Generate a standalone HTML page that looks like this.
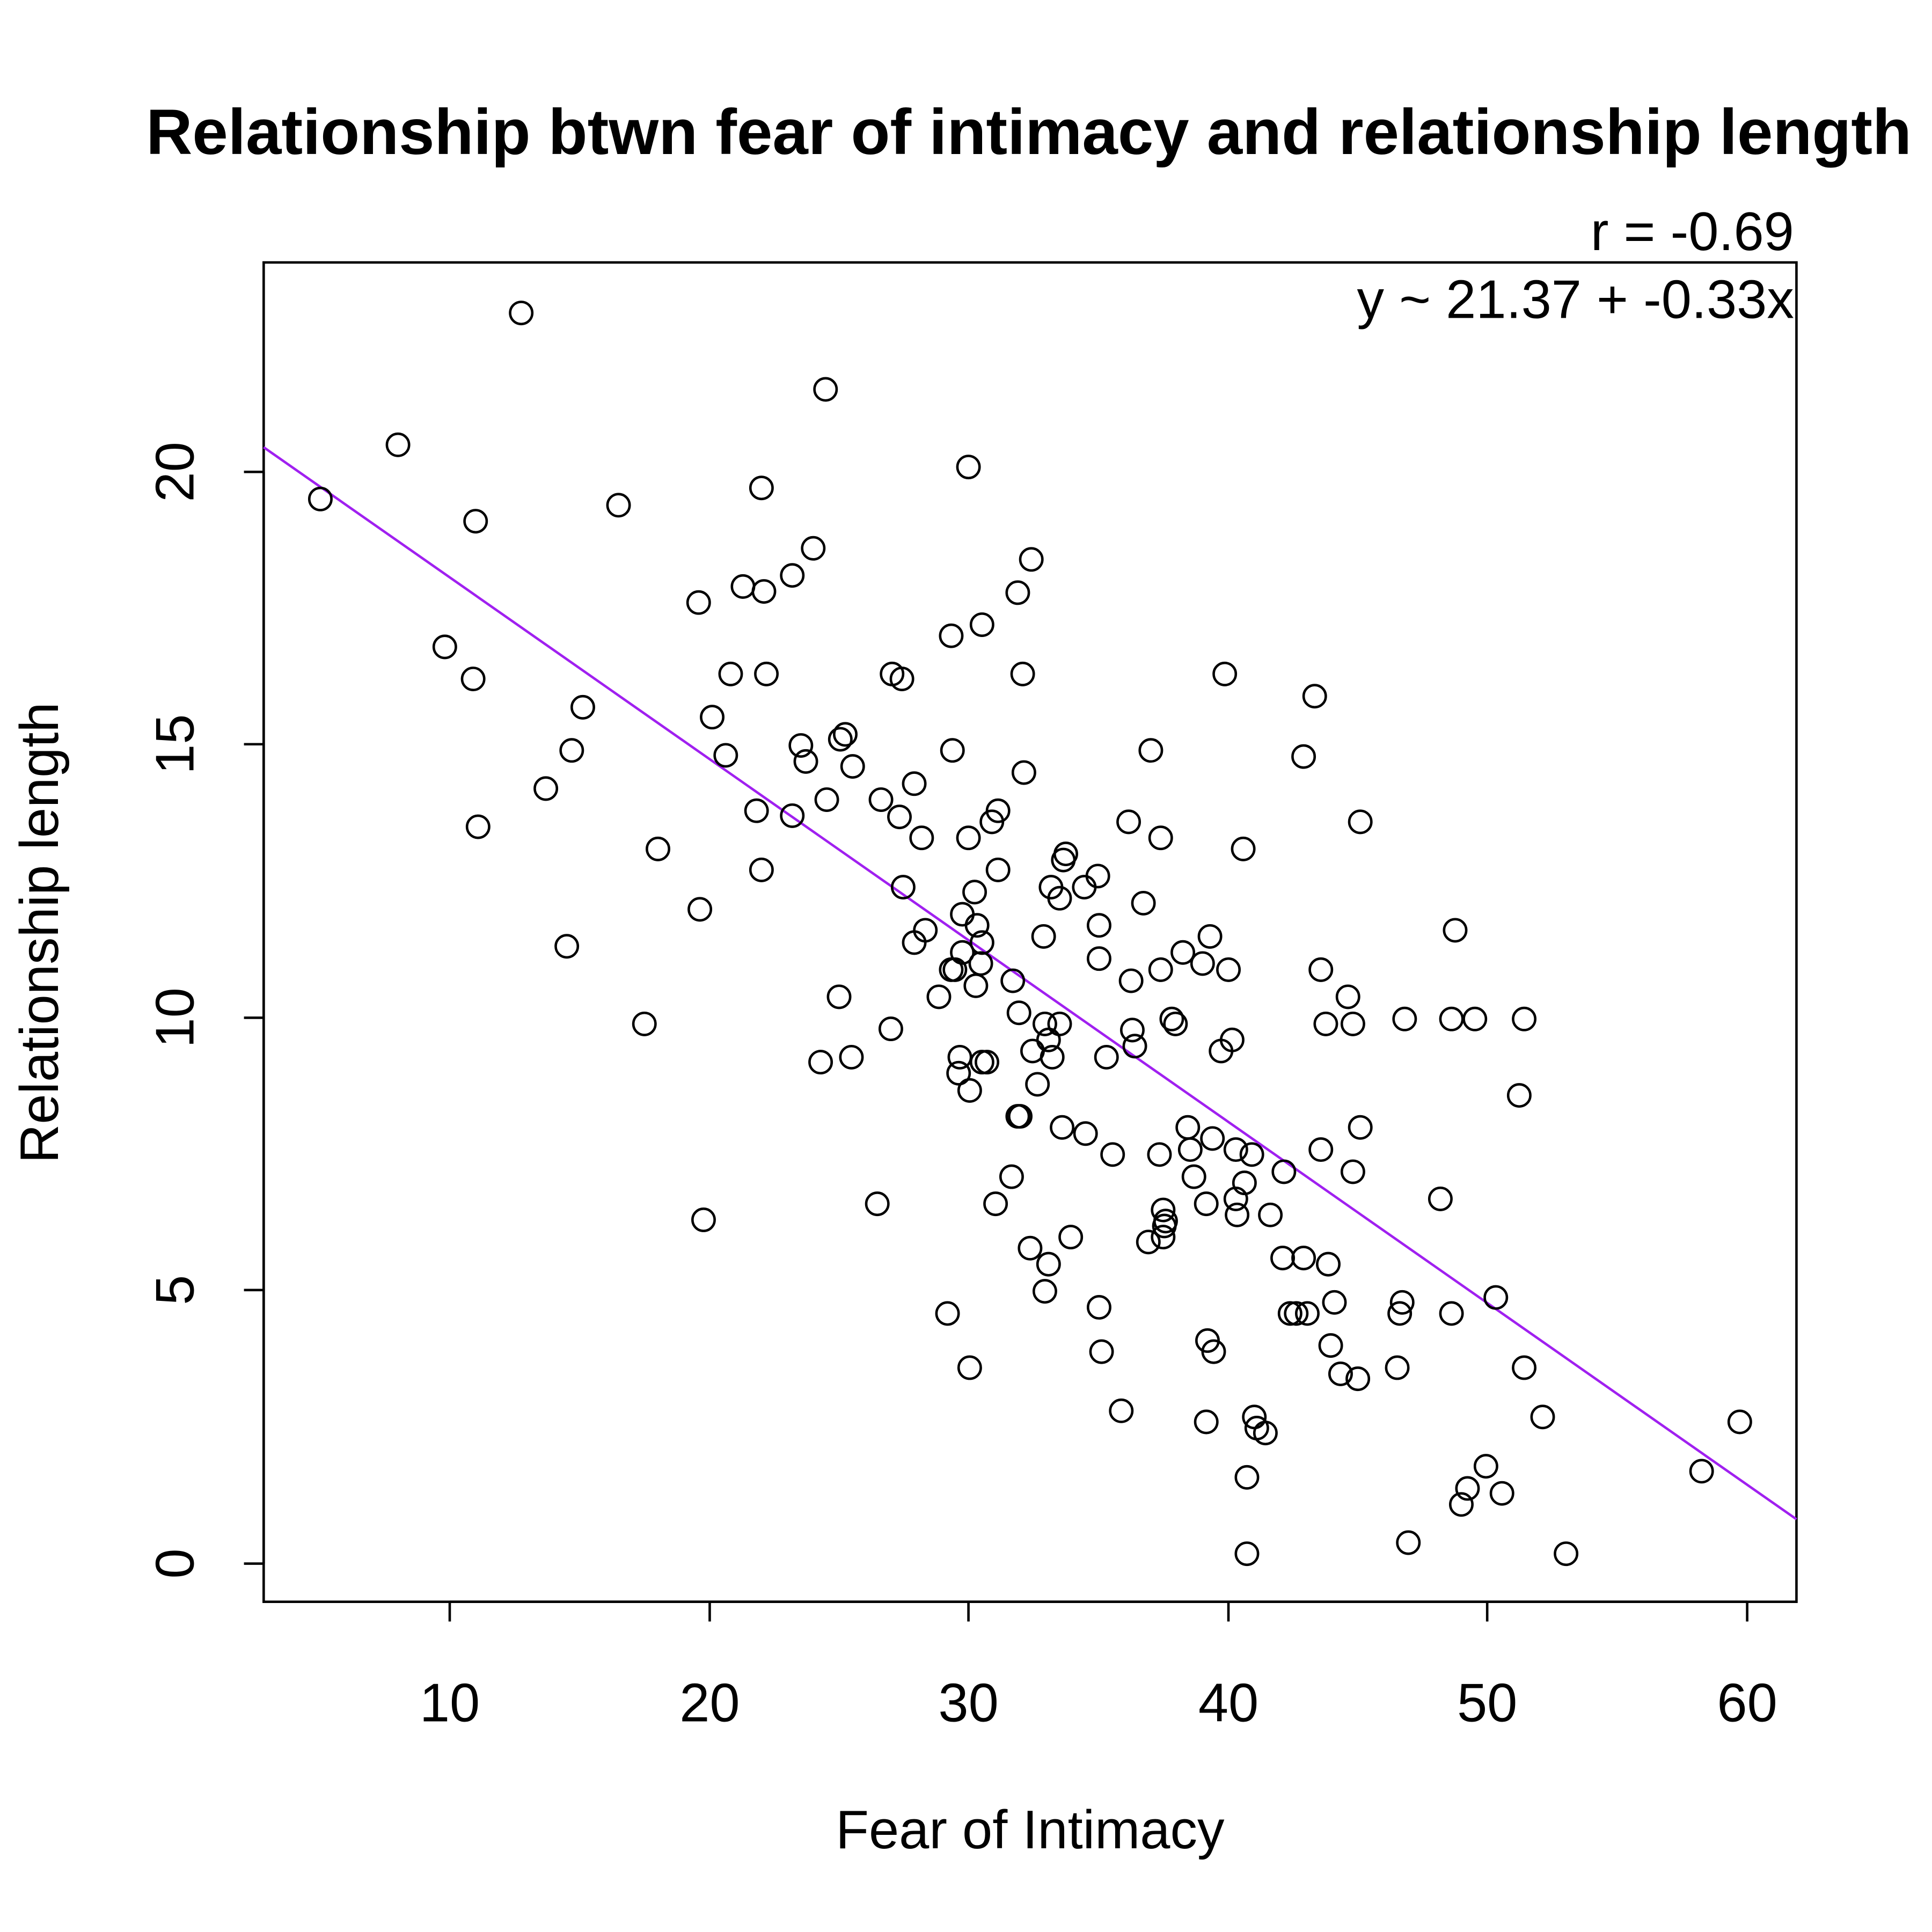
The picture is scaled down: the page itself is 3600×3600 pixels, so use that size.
<!DOCTYPE html>
<html><head><meta charset="utf-8"><style>html,body{margin:0;padding:0;background:#fff}svg{display:block}</style></head>
<body>
<svg xmlns="http://www.w3.org/2000/svg" width="3600" height="3600" viewBox="0 0 1568 1568" font-family="Liberation Sans, Arial, sans-serif">
<rect width="1568" height="1568" fill="#fff"/>
<text x="835" y="125" text-anchor="middle" font-size="52" font-weight="bold">Relationship btwn fear of intimacy and relationship length</text>
<text x="1456" y="203" text-anchor="end" font-size="44">r = -0.69</text>
<text x="1456" y="258" text-anchor="end" font-size="44">y ~ 21.37 + -0.33x</text>
<rect x="214" y="213" width="1244" height="1087" fill="none" stroke="#000" stroke-width="2"/>
<g stroke="#000" stroke-width="2">
<line x1="365" y1="1300" x2="1418" y2="1300"/>
<line x1="365" y1="1300" x2="365" y2="1316"/><line x1="576" y1="1300" x2="576" y2="1316"/><line x1="786" y1="1300" x2="786" y2="1316"/><line x1="997" y1="1300" x2="997" y2="1316"/><line x1="1207" y1="1300" x2="1207" y2="1316"/><line x1="1418" y1="1300" x2="1418" y2="1316"/>
<line x1="214" y1="383" x2="214" y2="1269"/>
<line x1="214" y1="1269" x2="198" y2="1269"/><line x1="214" y1="1047" x2="198" y2="1047"/><line x1="214" y1="826" x2="198" y2="826"/><line x1="214" y1="604" x2="198" y2="604"/><line x1="214" y1="383" x2="198" y2="383"/>
</g>
<g font-size="44" text-anchor="middle">
<text x="365" y="1397">10</text><text x="576" y="1397">20</text><text x="786" y="1397">30</text><text x="997" y="1397">40</text><text x="1207" y="1397">50</text><text x="1418" y="1397">60</text>
<text transform="translate(157,1269) rotate(-90)">0</text>
<text transform="translate(157,1047) rotate(-90)">5</text>
<text transform="translate(157,826) rotate(-90)">10</text>
<text transform="translate(157,604) rotate(-90)">15</text>
<text transform="translate(157,383) rotate(-90)">20</text>
<text x="836" y="1500">Fear of Intimacy</text>
<text transform="translate(47,757) rotate(-90)">Relationship length</text>
</g>
<line x1="214" y1="363" x2="1458" y2="1233" stroke="#a020f0" stroke-width="2"/>
<g fill="none" stroke="#000" stroke-width="2">
<circle cx="260" cy="405" r="9"/><circle cx="323" cy="361" r="9"/><circle cx="423" cy="254" r="9"/><circle cx="361" cy="525" r="9"/><circle cx="386" cy="423" r="9"/><circle cx="384" cy="551" r="9"/><circle cx="388" cy="671" r="9"/><circle cx="443" cy="640" r="9"/><circle cx="464" cy="609" r="9"/><circle cx="473" cy="574" r="9"/><circle cx="460" cy="768" r="9"/><circle cx="502" cy="410" r="9"/><circle cx="523" cy="831" r="9"/><circle cx="534" cy="689" r="9"/><circle cx="567" cy="489" r="9"/><circle cx="568" cy="738" r="9"/><circle cx="571" cy="990" r="9"/><circle cx="578" cy="582" r="9"/><circle cx="589" cy="613" r="9"/><circle cx="593" cy="547" r="9"/><circle cx="603" cy="476" r="9"/><circle cx="614" cy="658" r="9"/><circle cx="618" cy="396" r="9"/><circle cx="620" cy="480" r="9"/><circle cx="622" cy="547" r="9"/><circle cx="618" cy="706" r="9"/><circle cx="643" cy="467" r="9"/><circle cx="643" cy="662" r="9"/><circle cx="650" cy="605" r="9"/><circle cx="654" cy="618" r="9"/><circle cx="660" cy="445" r="9"/><circle cx="671" cy="649" r="9"/><circle cx="666" cy="862" r="9"/><circle cx="670" cy="316" r="9"/><circle cx="681" cy="809" r="9"/><circle cx="686" cy="596" r="9"/><circle cx="682" cy="600" r="9"/><circle cx="692" cy="622" r="9"/><circle cx="691" cy="858" r="9"/><circle cx="712" cy="977" r="9"/><circle cx="715" cy="649" r="9"/><circle cx="723" cy="835" r="9"/><circle cx="724" cy="547" r="9"/><circle cx="730" cy="663" r="9"/><circle cx="732" cy="551" r="9"/><circle cx="733" cy="720" r="9"/><circle cx="742" cy="636" r="9"/><circle cx="748" cy="680" r="9"/><circle cx="742" cy="765" r="9"/><circle cx="751" cy="755" r="9"/><circle cx="762" cy="809" r="9"/><circle cx="769" cy="1066" r="9"/><circle cx="772" cy="516" r="9"/><circle cx="773" cy="609" r="9"/><circle cx="772" cy="787" r="9"/><circle cx="775" cy="787" r="9"/><circle cx="779" cy="858" r="9"/><circle cx="778" cy="871" r="9"/><circle cx="781" cy="742" r="9"/><circle cx="781" cy="773" r="9"/><circle cx="786" cy="680" r="9"/><circle cx="787" cy="885" r="9"/><circle cx="786" cy="379" r="9"/><circle cx="787" cy="1110" r="9"/><circle cx="791" cy="724" r="9"/><circle cx="793" cy="751" r="9"/><circle cx="792" cy="800" r="9"/><circle cx="797" cy="507" r="9"/><circle cx="797" cy="765" r="9"/><circle cx="796" cy="782" r="9"/><circle cx="797" cy="862" r="9"/><circle cx="801" cy="862" r="9"/><circle cx="805" cy="667" r="9"/><circle cx="808" cy="977" r="9"/><circle cx="810" cy="658" r="9"/><circle cx="810" cy="706" r="9"/><circle cx="822" cy="796" r="9"/><circle cx="821" cy="955" r="9"/><circle cx="826" cy="481" r="9"/><circle cx="827" cy="822" r="9"/><circle cx="826" cy="906" r="9"/><circle cx="828" cy="906" r="9"/><circle cx="831" cy="627" r="9"/><circle cx="830" cy="547" r="9"/><circle cx="837" cy="454" r="9"/><circle cx="836" cy="1013" r="9"/><circle cx="838" cy="853" r="9"/><circle cx="842" cy="880" r="9"/><circle cx="847" cy="760" r="9"/><circle cx="848" cy="1048" r="9"/><circle cx="848" cy="831" r="9"/><circle cx="851" cy="1026" r="9"/><circle cx="851" cy="844" r="9"/><circle cx="854" cy="858" r="9"/><circle cx="853" cy="720" r="9"/><circle cx="860" cy="729" r="9"/><circle cx="862" cy="915" r="9"/><circle cx="860" cy="831" r="9"/><circle cx="863" cy="698" r="9"/><circle cx="865" cy="693" r="9"/><circle cx="869" cy="1004" r="9"/><circle cx="880" cy="720" r="9"/><circle cx="881" cy="920" r="9"/><circle cx="891" cy="711" r="9"/><circle cx="892" cy="751" r="9"/><circle cx="892" cy="778" r="9"/><circle cx="892" cy="1061" r="9"/><circle cx="894" cy="1097" r="9"/><circle cx="898" cy="858" r="9"/><circle cx="903" cy="937" r="9"/><circle cx="910" cy="1145" r="9"/><circle cx="916" cy="667" r="9"/><circle cx="918" cy="796" r="9"/><circle cx="919" cy="836" r="9"/><circle cx="921" cy="849" r="9"/><circle cx="928" cy="733" r="9"/><circle cx="934" cy="609" r="9"/><circle cx="932" cy="1008" r="9"/><circle cx="941" cy="937" r="9"/><circle cx="942" cy="680" r="9"/><circle cx="942" cy="787" r="9"/><circle cx="944" cy="982" r="9"/><circle cx="944" cy="1004" r="9"/><circle cx="946" cy="991" r="9"/><circle cx="945" cy="995" r="9"/><circle cx="951" cy="827" r="9"/><circle cx="954" cy="831" r="9"/><circle cx="960" cy="773" r="9"/><circle cx="964" cy="915" r="9"/><circle cx="966" cy="933" r="9"/><circle cx="969" cy="955" r="9"/><circle cx="976" cy="782" r="9"/><circle cx="979" cy="977" r="9"/><circle cx="980" cy="1088" r="9"/><circle cx="982" cy="760" r="9"/><circle cx="984" cy="924" r="9"/><circle cx="985" cy="1097" r="9"/><circle cx="979" cy="1154" r="9"/><circle cx="991" cy="853" r="9"/><circle cx="994" cy="547" r="9"/><circle cx="997" cy="787" r="9"/><circle cx="1000" cy="844" r="9"/><circle cx="1003" cy="933" r="9"/><circle cx="1003" cy="973" r="9"/><circle cx="1004" cy="986" r="9"/><circle cx="1010" cy="960" r="9"/><circle cx="1009" cy="689" r="9"/><circle cx="1012" cy="1199" r="9"/><circle cx="1012" cy="1261" r="9"/><circle cx="1016" cy="937" r="9"/><circle cx="1018" cy="1150" r="9"/><circle cx="1020" cy="1159" r="9"/><circle cx="1027" cy="1163" r="9"/><circle cx="1031" cy="986" r="9"/><circle cx="1042" cy="951" r="9"/><circle cx="1041" cy="1021" r="9"/><circle cx="1047" cy="1066" r="9"/><circle cx="1052" cy="1066" r="9"/><circle cx="1058" cy="614" r="9"/><circle cx="1058" cy="1021" r="9"/><circle cx="1061" cy="1066" r="9"/><circle cx="1067" cy="565" r="9"/><circle cx="1072" cy="787" r="9"/><circle cx="1072" cy="933" r="9"/><circle cx="1076" cy="831" r="9"/><circle cx="1078" cy="1026" r="9"/><circle cx="1080" cy="1092" r="9"/><circle cx="1083" cy="1057" r="9"/><circle cx="1088" cy="1115" r="9"/><circle cx="1094" cy="809" r="9"/><circle cx="1098" cy="831" r="9"/><circle cx="1098" cy="951" r="9"/><circle cx="1102" cy="1119" r="9"/><circle cx="1104" cy="667" r="9"/><circle cx="1104" cy="915" r="9"/><circle cx="1134" cy="1110" r="9"/><circle cx="1136" cy="1066" r="9"/><circle cx="1138" cy="1057" r="9"/><circle cx="1140" cy="827" r="9"/><circle cx="1143" cy="1252" r="9"/><circle cx="1169" cy="973" r="9"/><circle cx="1178" cy="827" r="9"/><circle cx="1178" cy="1066" r="9"/><circle cx="1181" cy="755" r="9"/><circle cx="1186" cy="1221" r="9"/><circle cx="1191" cy="1208" r="9"/><circle cx="1197" cy="827" r="9"/><circle cx="1206" cy="1190" r="9"/><circle cx="1214" cy="1053" r="9"/><circle cx="1219" cy="1212" r="9"/><circle cx="1233" cy="889" r="9"/><circle cx="1237" cy="827" r="9"/><circle cx="1237" cy="1110" r="9"/><circle cx="1252" cy="1150" r="9"/><circle cx="1271" cy="1261" r="9"/><circle cx="1381" cy="1194" r="9"/><circle cx="1412" cy="1154" r="9"/>
</g>
</svg>
</body></html>
